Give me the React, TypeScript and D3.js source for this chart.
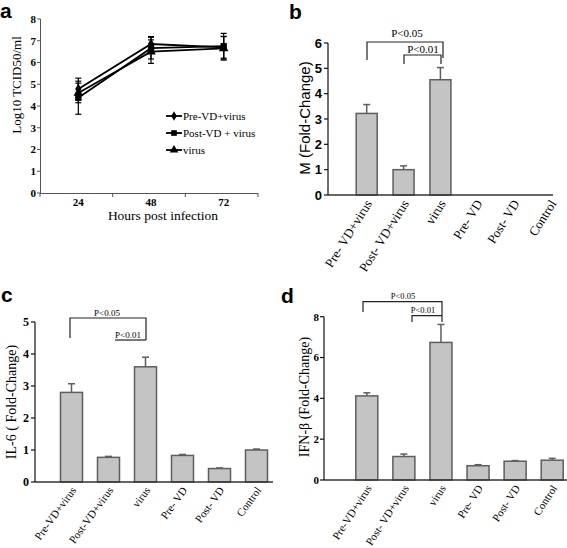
import React from "react";
import * as d3 from "d3";

// ---------- Panel a data ----------
const hours = ["24", "48", "72"];
const seriesNames = ["Pre-VD+virus", "Post-VD + virus", "virus"];
const preVals = [4.78, 6.85, 6.7];
const postVals = [4.38, 6.66, 6.75];
const virusVals = [4.6, 6.5, 6.65];
const preErr = [0.5, 0.34, 0.5];
const postErr = [0.76, 0.5, 0.59];
const virusErr = [0.45, 0.54, 0.54];
const aTicks = [0, 1, 2, 3, 4, 5, 6, 7, 8];

// ---------- Bar panels ----------
const bCats = ["Pre- VD+virus", "Post- VD+virus", "virus", "Pre- VD", "Post- VD", "Control"];
const bVals = [3.22, 1.0, 4.55, 0, 0, 0];
const bErr = [3.57, 1.15, 5.03, 0, 0, 0];
const bTicks = [0, 1, 2, 3, 4, 5, 6];

const cCats = ["Pre-VD+virus", "Post-VD+virus", "virus", "Pre- VD", "Post- VD", "Control"];
const cVals = [2.8, 0.77, 3.6, 0.83, 0.42, 1.0];
const cErr = [3.07, 0.8, 3.9, 0.86, 0.44, 1.03];
const cTicks = [0, 1, 2, 3, 4, 5];

const dCats = ["Pre-VD+virus", "Post- VD+virus", "virus", "Pre- VD", "Post- VD", "Control"];
const dVals = [4.12, 1.15, 6.74, 0.7, 0.92, 0.97];
const dErr = [4.27, 1.27, 7.62, 0.75, 0.95, 1.06];
const dTicks = [0, 2, 4, 6, 8];

const SERIF = "'Liberation Serif', 'Times New Roman', serif";
const SANS = "'Liberation Sans', Arial, sans-serif";
const BAR_FILL = "#c4c4c4";
const BAR_STROKE = "#5e5e5e";

function PanelA() {
  const x = d3.scaleBand().domain(hours).range([40, 258]).paddingInner(0).paddingOuter(0);
  const y = d3.scaleLinear().domain([0, 8]).range([193, 19]);
  const cx = (h: string) => (x(h) as number) + x.bandwidth() / 2 + 2;
  const all = [
    { name: seriesNames[0], vals: preVals, err: preErr, sym: d3.symbolDiamond, size: 34 },
    { name: seriesNames[1], vals: postVals, err: postErr, sym: d3.symbolSquare, size: 40 },
    { name: seriesNames[2], vals: virusVals, err: virusErr, sym: d3.symbolTriangle, size: 40 },
  ];
  const line = d3
    .line<number>()
    .x((_, i) => cx(hours[i]))
    .y((v) => y(v));
  const boundaries = [40, ...hours.map((h) => (x(h) as number) + x.bandwidth())];
  return (
    <g>
      <text x={0} y={18} fontFamily={SANS} fontWeight="bold" fontSize={21}>a</text>
      {/* axes */}
      <line x1={40.5} x2={40.5} y1={19} y2={193} stroke="#555" strokeWidth={1} />
      <line x1={40} x2={258} y1={193.5} y2={193.5} stroke="#555" strokeWidth={1} />
      {aTicks.map((t) => (
        <g key={t}>
          <line x1={37} x2={40.5} y1={y(t)} y2={y(t)} stroke="#555" />
          <text x={36} y={y(t)} dy="0.35em" textAnchor="end" fontFamily={SERIF} fontWeight="bold" fontSize={11}>{t}</text>
        </g>
      ))}
      {boundaries.map((b, i) => (
        <line key={i} x1={b} x2={b} y1={193} y2={197} stroke="#555" />
      ))}
      {hours.map((h) => (
        <text key={h} x={cx(h)} y={206} textAnchor="middle" fontFamily={SERIF} fontWeight="bold" fontSize={11}>{h}</text>
      ))}
      <text x={163} y={220} textAnchor="middle" fontFamily={SERIF} fontSize={13.5}>Hours post infection</text>
      <text transform={`translate(16,85) rotate(-90)`} textAnchor="middle" dominantBaseline="central" fontFamily={SERIF} fontSize={13}>Log10 TCID50/ml</text>
      {/* series */}
      {all.map((s) => (
        <g key={s.name}>
          <path d={line(s.vals) as string} fill="none" stroke="#000" strokeWidth={1.8} />
          {s.vals.map((v, i) => {
            const px = cx(hours[i]);
            return (
              <g key={i}>
                <line x1={px} x2={px} y1={y(v - s.err[i])} y2={y(v + s.err[i])} stroke="#000" strokeWidth={1.2} />
                <line x1={px - 3} x2={px + 3} y1={y(v - s.err[i])} y2={y(v - s.err[i])} stroke="#000" strokeWidth={1.2} />
                <line x1={px - 3} x2={px + 3} y1={y(v + s.err[i])} y2={y(v + s.err[i])} stroke="#000" strokeWidth={1.2} />
                <path d={d3.symbol().type(s.sym).size(s.size)() as string} transform={`translate(${px},${y(v)})`} fill="#000" />
              </g>
            );
          })}
        </g>
      ))}
      {/* legend */}
      {all.map((s, i) => {
        const ly = 116 + i * 17;
        return (
          <g key={s.name}>
            <line x1={166} x2={182} y1={ly} y2={ly} stroke="#000" strokeWidth={1.8} />
            <path d={d3.symbol().type(s.sym).size(s.size * 0.8)() as string} transform={`translate(174,${ly})`} fill="#000" />
            <text x={183} y={ly} dy="0.35em" fontFamily={SERIF} fontSize={11}>{s.name}</text>
          </g>
        );
      })}
    </g>
  );
}

type BarProps = {
  letter: string;
  letterX: number;
  letterY: number;
  cats: string[];
  vals: number[];
  errs: number[];
  ticks: number[];
  yDomain: [number, number];
  yRange: [number, number];
  firstCenter: number;
  lastCenter: number;
  axisX0: number;
  axisX1: number;
  barW: number;
  tickFont: string;
  tickSize: number;
  tickX: number;
  yLabel: string;
  yLabelFont: string;
  yLabelSize: number;
  yLabelX: number;
  yLabelY: number;
  catSize: number;
  catAngle: number;
  children?: React.ReactNode;
};

function BarPanel(p: BarProps) {
  const x = d3.scalePoint<string>().domain(p.cats).range([p.firstCenter, p.lastCenter]);
  const y = d3.scaleLinear().domain(p.yDomain).range(p.yRange);
  const y0 = y(0);
  return (
    <g>
      <text x={p.letterX} y={p.letterY} fontFamily={SANS} fontWeight="bold" fontSize={21}>{p.letter}</text>
      {p.cats.map((c, i) => {
        const cx = x(c) as number;
        if (p.vals[i] <= 0) return null;
        return (
          <g key={c}>
            <line x1={cx} x2={cx} y1={y(p.vals[i])} y2={y(p.errs[i])} stroke={BAR_STROKE} strokeWidth={1.5} />
            <line x1={cx - 3.5} x2={cx + 3.5} y1={y(p.errs[i])} y2={y(p.errs[i])} stroke={BAR_STROKE} strokeWidth={1.5} />
            <rect x={cx - p.barW / 2} y={y(p.vals[i])} width={p.barW} height={y0 - y(p.vals[i])} fill={BAR_FILL} stroke={BAR_STROKE} strokeWidth={1.5} />
          </g>
        );
      })}
      <line x1={p.axisX0} x2={p.axisX1} y1={y0} y2={y0} stroke="#333" strokeWidth={1.3} />
      <line x1={p.axisX0} x2={p.axisX0} y1={y0} y2={p.yRange[1]} stroke="#111" strokeWidth={1.2} />
      {p.ticks.map((t) => (
        <g key={t}>
          <line x1={p.axisX0 - 4} x2={p.axisX0} y1={y(t)} y2={y(t)} stroke="#111" strokeWidth={1.2} />
          <text x={p.tickX} y={y(t)} dy="0.35em" textAnchor="end" fontFamily={p.tickFont} fontWeight="bold" fontSize={p.tickSize}>{t}</text>
        </g>
      ))}
      {p.cats.map((c) => (
        <text
          key={c}
          transform={`translate(${(x(c) as number) + 2},${y0 + 6}) rotate(${p.catAngle})`}
          textAnchor="end"
          dominantBaseline="central"
          fontFamily={SERIF}
          fontSize={p.catSize}
        >
          {c}
        </text>
      ))}
      <text
        transform={`translate(${p.yLabelX},${p.yLabelY}) rotate(-90)`}
        textAnchor="middle"
        dominantBaseline="central"
        fontFamily={p.yLabelFont}
        fontSize={p.yLabelSize}
      >
        {p.yLabel}
      </text>
      {p.children}
    </g>
  );
}

export default function App() {
  return (
    <svg width={567} height={548} style={{ position: "absolute", left: 0, top: 0, background: "#fff" }}>
      <rect width={567} height={548} fill="#fff" />
      <PanelA />
      <BarPanel
        letter="b" letterX={289} letterY={19}
        cats={bCats} vals={bVals} errs={bErr} ticks={bTicks}
        yDomain={[0, 6]} yRange={[195, 43]}
        firstCenter={366.7} lastCenter={551} axisX0={328} axisX1={553} barW={21}
        tickFont={SANS} tickSize={13} tickX={322}
        yLabel="M (Fold-Change)" yLabelFont={SANS} yLabelSize={15} yLabelX={304} yLabelY={118}
        catSize={13} catAngle={-58}
      >
        <path d="M367,60 V42 H443 V58" fill="none" stroke="#222" strokeWidth={1.2} />
        <path d="M404,64 V55 H441 V64" fill="none" stroke="#222" strokeWidth={1.2} />
        <text x={407} y={37} textAnchor="middle" fontFamily={SERIF} fontSize={11}>P&lt;0.05</text>
        <text x={423} y={52.5} textAnchor="middle" fontFamily={SERIF} fontSize={11}>P&lt;0.01</text>
      </BarPanel>
      <BarPanel
        letter="c" letterX={1} letterY={302}
        cats={cCats} vals={cVals} errs={cErr} ticks={cTicks}
        yDomain={[0, 5]} yRange={[482, 322]}
        firstCenter={71.5} lastCenter={256.5} axisX0={35} axisX1={273} barW={22}
        tickFont={SERIF} tickSize={12} tickX={29}
        yLabel="IL-6 ( Fold-Change)" yLabelFont={SERIF} yLabelSize={14} yLabelX={11} yLabelY={402}
        catSize={11} catAngle={-54}
      >
        <path d="M70,338 V318 H146 V340" fill="none" stroke="#222" strokeWidth={1.2} />
        <path d="M115,340 H146" fill="none" stroke="#222" strokeWidth={1.2} />
        <text x={107} y={316} textAnchor="middle" fontFamily={SERIF} fontSize={9}>P&lt;0.05</text>
        <text x={128} y={338} textAnchor="middle" fontFamily={SERIF} fontSize={9}>P&lt;0.01</text>
      </BarPanel>
      <BarPanel
        letter="d" letterX={281} letterY={303}
        cats={dCats} vals={dVals} errs={dErr} ticks={dTicks}
        yDomain={[0, 8]} yRange={[480, 316.7]}
        firstCenter={366.8} lastCenter={552.2} axisX0={324} axisX1={567} barW={22}
        tickFont={SERIF} tickSize={11} tickX={319}
        yLabel="IFN-β (Fold-Change)" yLabelFont={SERIF} yLabelSize={14} yLabelX={304} yLabelY={397}
        catSize={11} catAngle={-57}
      >
        <path d="M363,312 V301.7 H442 V322" fill="none" stroke="#222" strokeWidth={1.2} />
        <path d="M412,322 V315.7 H442" fill="none" stroke="#222" strokeWidth={1.2} />
        <text x={403} y={299} textAnchor="middle" fontFamily={SERIF} fontSize={8.5}>P&lt;0.05</text>
        <text x={423} y={313} textAnchor="middle" fontFamily={SERIF} fontSize={8.5}>P&lt;0.01</text>
      </BarPanel>
    </svg>
  );
}
